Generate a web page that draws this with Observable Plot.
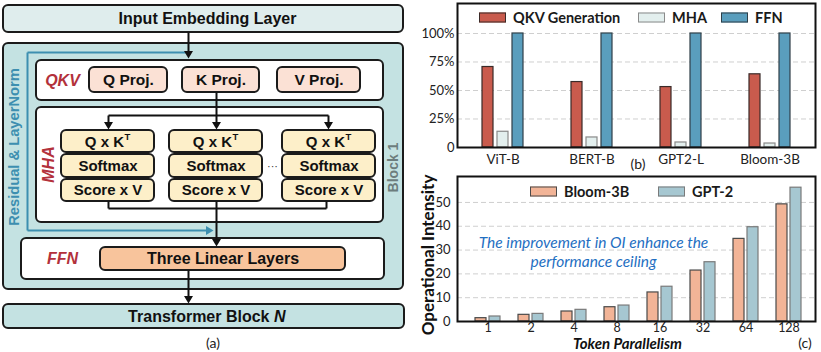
<!DOCTYPE html>
<html><head><meta charset="utf-8">
<script src="https://cdn.jsdelivr.net/npm/d3@7"></script>
<script src="https://cdn.jsdelivr.net/npm/@observablehq/plot@0.6"></script>
<style>
body{margin:0;background:#fff;}
#root{position:relative;width:821px;height:352px;overflow:hidden;background:#fff;font-family:Lato,sans-serif;color:#1a1a1a;}
.layer{position:absolute;}
.layer svg{display:block;background:transparent;overflow:visible;}
.lg{position:absolute;display:flex;align-items:center;font-weight:bold;font-size:14.5px;white-space:nowrap;transform:translateY(-50%);}
.sw{display:inline-block;width:25px;height:8px;margin-right:7px;}
.lab{position:absolute;font-size:14px;transform:translate(-50%,-50%);white-space:nowrap;color:#222;}
</style></head><body><div id="root"></div>
<script>
// ---------- data : chart (b) ----------
const models = ["ViT-B", "BERT-B", "GPT2-L", "Bloom-3B"];
const seriesB = ["QKV Generation", "MHA", "FFN"];
const qkvGeneration = [70.6, 57.4, 53.0, 64.2];
const mhaShare = [13.8, 8.8, 4.4, 3.5];
const ffnShare = [100, 100, 100, 100];
const yTicksB = [0, 25, 50, 75, 100];

// ---------- data : chart (c) ----------
const tokens = ["1", "2", "4", "8", "16", "32", "64", "128"];
const seriesC = ["Bloom-3B", "GPT-2"];
const bloom3b = [1.4, 2.8, 4.2, 6.0, 12.2, 21.4, 34.7, 49.2];
const gpt2 = [2.1, 3.2, 4.9, 6.7, 14.6, 24.9, 39.6, 56.2];
const yTicksC = [0, 10, 20, 30, 40, 50];
const noteC = ["The improvement in OI enhance the", "performance ceiling"];

// ---------- data : diagram (a) labels ----------
const projLabels = ["Q Proj.", "K Proj.", "V Proj."];
const headOps = ["Q x K", "Softmax", "Score x V"];
const stageLabels = ["QKV", "MHA", "FFN"];

// ---------- styles ----------
const colB = {"QKV Generation": ["#c95b4d", "#3a2a28"], "MHA": ["#e3efee", "#8a8a8a"], "FFN": ["#5a9ebd", "#2f3f48"]};
const colC = {"Bloom-3B": ["#f2b497", "#4a4a4a"], "GPT-2": ["#a6c7d1", "#7a7a7a"]};
const root = document.getElementById("root");
function place(node, left, top) {
  const d = document.createElement("div");
  d.className = "layer"; d.style.left = left + "px"; d.style.top = top + "px";
  d.appendChild(node); root.appendChild(d); return d;
}
const transparent = {background: "transparent", fontFamily: "Lato, sans-serif", overflow: "visible"};

// ---------- chart (b) ----------
const dataB = models.flatMap((m, i) => [
  {model: m, series: seriesB[0], value: qkvGeneration[i]},
  {model: m, series: seriesB[1], value: mhaShare[i]},
  {model: m, series: seriesB[2], value: ffnShare[i]}
]);
const B = {width: 421, height: 170, marginLeft: 57, marginRight: 6, marginTop: 3, marginBottom: 23, yMax: 126.3};
place(Plot.plot({
  width: B.width, height: B.height, marginLeft: B.marginLeft, marginRight: B.marginRight, marginTop: B.marginTop, marginBottom: B.marginBottom,
  style: transparent, x: {domain: [0, 1], axis: null}, y: {domain: [0, B.yMax], axis: null},
  marks: [Plot.ruleY(yTicksB.filter(d => d > 0), {stroke: "#cfcfcf", strokeDasharray: "5,3", strokeWidth: 1})]
}), 400, 0);
place(Plot.plot({
  width: B.width, height: B.height, marginLeft: B.marginLeft, marginRight: B.marginRight, marginTop: B.marginTop, marginBottom: B.marginBottom,
  style: transparent,
  fx: {domain: models, padding: 0, label: null, axis: null},
  x: {domain: seriesB, paddingInner: 0.25, paddingOuter: 1.42, axis: null},
  y: {domain: [0, B.yMax], axis: null},
  marks: [
    ...seriesB.map(s => Plot.barY(dataB.filter(d => d.series === s), {fx: "model", x: "series", y: "value", fill: colB[s][0], stroke: colB[s][1], strokeWidth: 1.2})),
    Plot.axisFx({anchor: "bottom", tickSize: 0, tickPadding: 7, label: null, fontSize: 13.5, fill: "#222"})
  ]
}), 400, 0);
place(Plot.plot({
  width: B.width, height: B.height, marginLeft: B.marginLeft, marginRight: B.marginRight, marginTop: B.marginTop, marginBottom: B.marginBottom,
  style: transparent, x: {domain: [0, 1], axis: null}, y: {domain: [0, B.yMax]},
  marks: [
    Plot.axisY(yTicksB, {tickSize: 0, tickPadding: 3, label: null, fontSize: 13, fill: "#222", tickFormat: d => d === 0 ? "0" : d + "%"}),
    Plot.frame({stroke: "#111", strokeWidth: 2})
  ]
}), 400, 0);

// ---------- chart (c) ----------
const dataC = tokens.flatMap((t, i) => [
  {token: t, series: seriesC[0], value: bloom3b[i]},
  {token: t, series: seriesC[1], value: gpt2[i]}
]);
const Cc = {width: 421, height: 182, marginLeft: 57, marginRight: 6, marginTop: 6, marginBottom: 31, yMax: 60.9};
place(Plot.plot({
  width: Cc.width, height: Cc.height, marginLeft: Cc.marginLeft, marginRight: Cc.marginRight, marginTop: Cc.marginTop, marginBottom: Cc.marginBottom,
  style: transparent, x: {domain: [0, 1], axis: null}, y: {domain: [0, Cc.yMax], axis: null},
  marks: [Plot.ruleY(yTicksC.filter(d => d > 0), {stroke: "#cfcfcf", strokeDasharray: "5,3", strokeWidth: 1})]
}), 400, 170);
place(Plot.plot({
  width: Cc.width, height: Cc.height, marginLeft: 64, marginRight: 9, marginTop: Cc.marginTop, marginBottom: Cc.marginBottom,
  style: transparent,
  fx: {domain: tokens, padding: 0, label: null, axis: null},
  x: {domain: seriesC, paddingInner: 0.2, paddingOuter: 0.6, axis: null},
  y: {domain: [0, Cc.yMax], axis: null},
  marks: [
    ...seriesC.map(s => Plot.barY(dataC.filter(d => d.series === s), {fx: "token", x: "series", y: "value", fill: colC[s][0], stroke: colC[s][1], strokeWidth: 1.2})),
    Plot.axisFx({anchor: "bottom", tickSize: 0, tickPadding: 1.5, label: null, fontSize: 12.5, fill: "#222"})
  ]
}), 400, 170);
place(Plot.plot({
  width: Cc.width, height: Cc.height, marginLeft: Cc.marginLeft, marginRight: Cc.marginRight, marginTop: Cc.marginTop, marginBottom: Cc.marginBottom,
  style: transparent, x: {domain: [0, 1], axis: null}, y: {domain: [0, Cc.yMax]},
  marks: [
    Plot.axisY(yTicksC, {tickSize: 0, tickPadding: 7, label: null, fontSize: 13, fill: "#222"}),
    Plot.text([noteC.join("\n")], {frameAnchor: "middle", dx: -43, dy: 2, fontSize: 15.5, fontStyle: "italic", fill: "#1f6fc2", lineHeight: 1.25}),
    Plot.text(["Operational Intensity"], {frameAnchor: "left", textAnchor: "middle", lineAnchor: "middle", rotate: -90, dx: -29, dy: 6, fontSize: 17, fontWeight: "bold", fill: "#111"}),
    Plot.text(["Token Parallelism"], {frameAnchor: "bottom", textAnchor: "middle", lineAnchor: "middle", dx: -9, dy: 22.5, fontSize: 15, fontWeight: "bold", fontStyle: "italic", fill: "#111"}),
    Plot.frame({stroke: "#111", strokeWidth: 2})
  ]
}), 400, 170);

// legends
function legend(series, cols, lefts, top) {
  series.forEach((s, i) => {
    const d = document.createElement("div");
    d.className = "lg"; d.style.left = lefts[i] + "px"; d.style.top = top + "px";
    const sw = document.createElement("span"); sw.className = "sw";
    sw.style.background = cols[s][0]; sw.style.border = "1.2px solid " + cols[s][1];
    d.appendChild(sw); d.appendChild(document.createTextNode(s));
    root.appendChild(d);
  });
}
legend(seriesB, colB, [479, 638, 721], 17);
legend(seriesC, colC, [530, 658], 191);
function label(t, x, y) {
  const d = document.createElement("div"); d.className = "lab"; d.textContent = t;
  d.style.left = x + "px"; d.style.top = y + "px"; root.appendChild(d);
}
label("(b)", 638, 163);
label("(c)", 805, 342);
label("(a)", 213, 342);

// ---------- diagram (a) ----------
const Lay = {
  input: [3, 403, 5, 32], block: [3, 403, 43, 289], qkv: [36, 383, 60, 100], mha: [36, 383, 107, 222],
  ffn: [21, 384, 238, 279], linear: [100, 345, 247, 270], out: [3, 404, 304, 328],
  projX: [[89, 167], [182, 259], [277, 360]], projY: [67, 92],
  headX: [[61, 154], [169, 262], [282, 375]], opY: [[130, 152], [154, 177], [179, 201]]
};
const DC = {input: "#dfeded", teal: "#c4e2e2", proj: "#fbe1d5", op: "#fdefc9", lin: "#f8c49c", red: "#b3313b", res: "#3d8fb0"};
const R = (b, fill) => ({x1: b[0], x2: b[1], y1: b[2], y2: b[3], fill});
const boxes = [
  R(Lay.input, DC.input), R(Lay.block, DC.teal), R(Lay.qkv, "#fff"), R(Lay.mha, "#fff"), R(Lay.ffn, "#fff"),
  ...Lay.projX.map(([a, b]) => R([a, b, ...Lay.projY], DC.proj)),
  ...Lay.headX.flatMap(([a, b]) => Lay.opY.map(([c, d]) => R([a, b, c, d], DC.op))),
  R(Lay.linear, DC.lin), R(Lay.out, DC.teal)
];
const S = (x1, y1, x2, y2) => ({x1, y1, x2, y2});
const blackSegs = [S(188, 32, 188, 52), S(216, 92, 216, 123), S(108, 115, 328, 115), S(108, 115, 108, 123), S(328, 115, 328, 123),
  S(108, 201, 108, 208), S(108, 208, 326, 208), S(326, 208, 326, 201), S(216, 201, 216, 240), S(188, 270, 188, 297)];
const tealSegs = [S(188, 52, 27, 52), S(27, 52, 27, 230), S(27, 230, 207, 230)];
const downHeads = [[188, 58], [216, 129], [108, 129], [328, 129], [216, 246], [188, 303]].map(([x, y]) => ({x, y}));
const triDown = {draw(ctx) { ctx.moveTo(-4.5, -7.5); ctx.lineTo(4.5, -7.5); ctx.lineTo(0, 0); ctx.closePath(); }};
const triRight = {draw(ctx) { ctx.moveTo(-7.5, -4.5); ctx.lineTo(-7.5, 4.5); ctx.lineTo(0, 0); ctx.closePath(); }};
const cx = ([a, b]) => (a + b) / 2;
const boldTexts = [
  {t: "Input Embedding Layer", x: 207, y: 18.5, s: 16},
  ...projLabels.map((t, i) => ({t, x: cx(Lay.projX[i]), y: 79.5, s: 15.5})),
  ...Lay.headX.flatMap(h => [{t: headOps[1], x: cx(h), y: 165.5, s: 15}, {t: headOps[2], x: cx(h), y: 190, s: 15}]),
  {t: "Three Linear Layers", x: 222.5, y: 258.5, s: 16}
];
const qkTexts = Lay.headX.map(h => ({t: headOps[0], x: cx(h) + 16, y: 141.5}));
const supTexts = Lay.headX.map(h => ({t: "T", x: cx(h) + 16.5, y: 136}));
const stagePos = [[62, 80, 0], [48, 164, -90], [62, 258.5, 0]];
const F = "'Liberation Sans', Arial, sans-serif";
place(Plot.plot({
  width: 410, height: 352, margin: 0,
  x: {domain: [0, 410], range: [0, 410], axis: null},
  y: {domain: [0, 352], range: [0, 352], axis: null},
  color: {type: "identity"},
  style: {background: "transparent", fontFamily: F, overflow: "visible"},
  marks: [
    Plot.rect(boxes, {x1: "x1", x2: "x2", y1: "y1", y2: "y2", fill: "fill", stroke: "#1b1b1b", strokeWidth: 2, rx: 5}),
    Plot.link(tealSegs, {x1: "x1", y1: "y1", x2: "x2", y2: "y2", stroke: DC.res, strokeWidth: 2}),
    Plot.dot([{x: 213, y: 230}], {x: "x", y: "y", symbol: triRight, r: 5, fill: DC.res, stroke: "none"}),
    Plot.link(blackSegs, {x1: "x1", y1: "y1", x2: "x2", y2: "y2", stroke: "#111", strokeWidth: 2}),
    Plot.dot(downHeads, {x: "x", y: "y", symbol: triDown, r: 5, fill: "#111", stroke: "none"}),
    Plot.text(boldTexts, {x: "x", y: "y", text: "t", fontSize: d => d.s, fontWeight: "bold", fill: "#111", fontFamily: F}),
    Plot.text(qkTexts, {x: "x", y: "y", text: "t", fontSize: 15, fontWeight: "bold", fill: "#111", textAnchor: "end", fontFamily: F}),
    Plot.text(supTexts, {x: "x", y: "y", text: "t", fontSize: 9.5, fontWeight: "bold", fill: "#111", textAnchor: "start", fontFamily: F}),
    Plot.text([{t: "Transformer Block", x: 269, y: 316}], {x: "x", y: "y", text: "t", fontSize: 16, fontWeight: "bold", fill: "#111", textAnchor: "end", fontFamily: F}),
    Plot.text([{t: "N", x: 273.5, y: 316}], {x: "x", y: "y", text: "t", fontSize: 16, fontWeight: "bold", fontStyle: "italic", fill: "#111", textAnchor: "start", fontFamily: F}),
    Plot.text(stageLabels.map((t, i) => ({t, x: stagePos[i][0], y: stagePos[i][1], r: stagePos[i][2]})), {x: "x", y: "y", text: "t", rotate: "r", fontSize: 16, fontWeight: "bold", fontStyle: "italic", fill: DC.red, fontFamily: F}),
    Plot.text([{t: "Residual & LayerNorm", x: 14, y: 146.5}], {x: "x", y: "y", text: "t", rotate: -90, fontSize: 14.7, fontWeight: "bold", fill: DC.res, fontFamily: F}),
    Plot.text([{t: "Block 1", x: 393, y: 167}], {x: "x", y: "y", text: "t", rotate: -90, fontSize: 14, fontWeight: "bold", fill: "#6d7d7d", fontFamily: F}),
    Plot.text([{t: "···", x: 272, y: 166}], {x: "x", y: "y", text: "t", fontSize: 11, fill: "#333", fontFamily: F})
  ]
}), 0, 0);
</script></body></html>
